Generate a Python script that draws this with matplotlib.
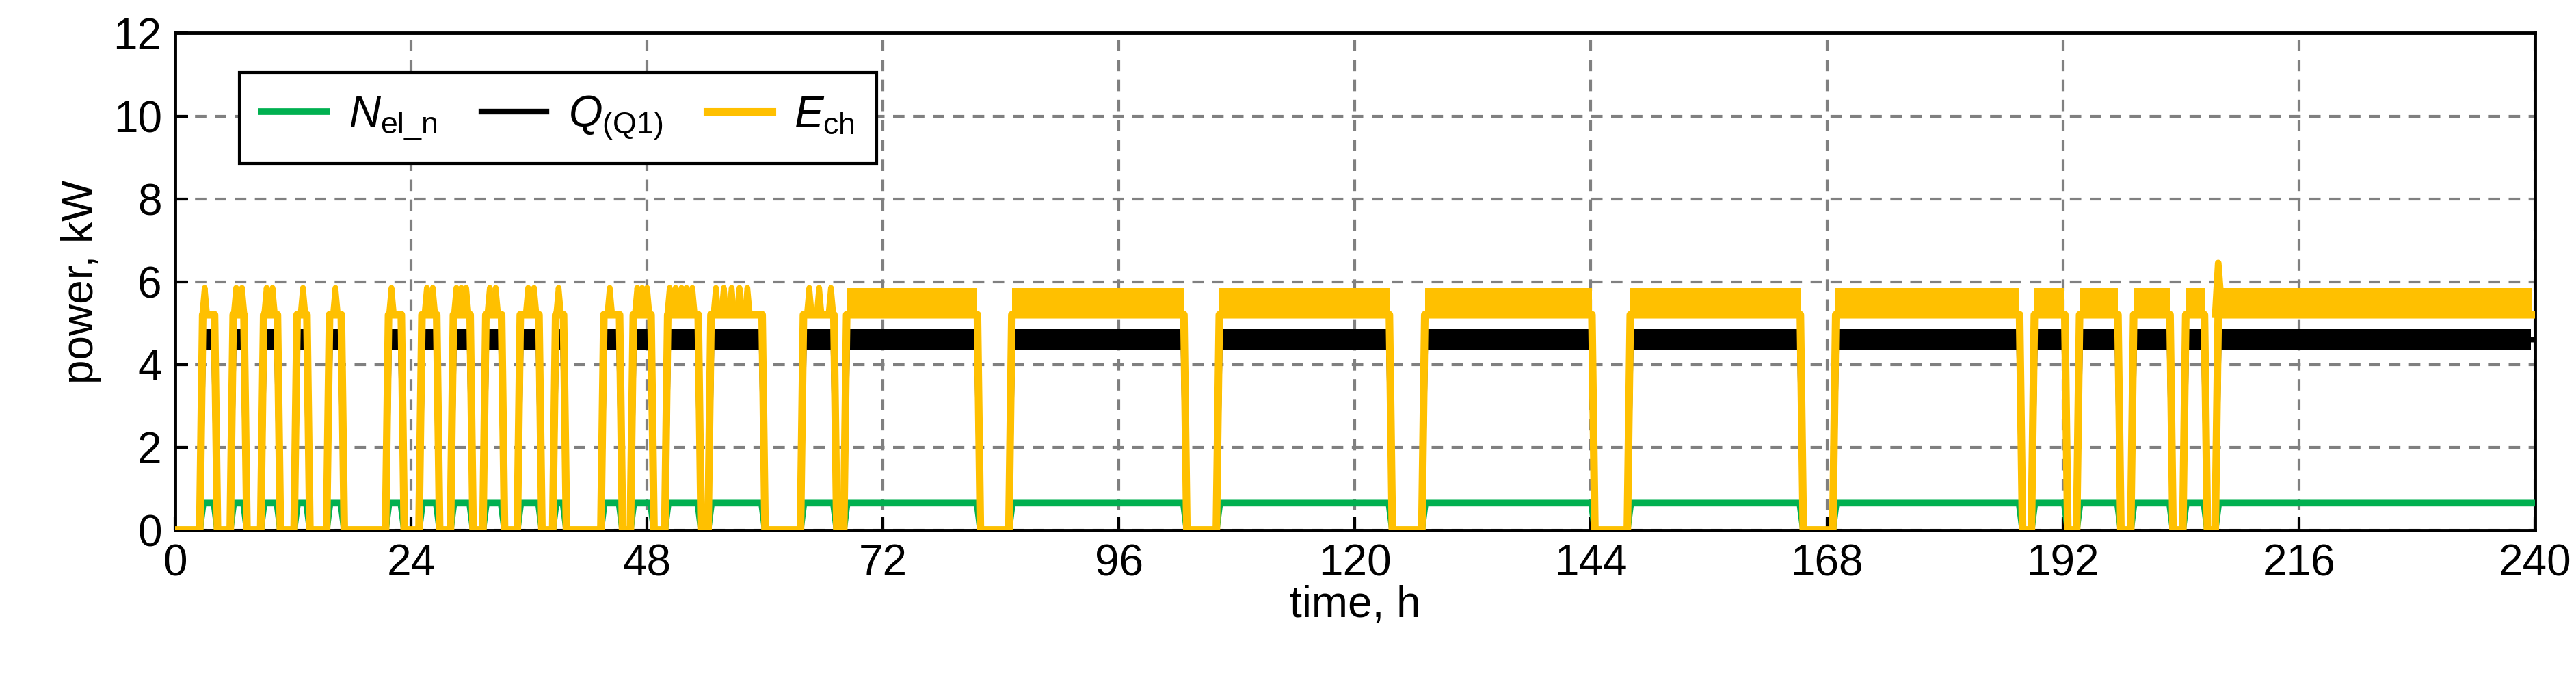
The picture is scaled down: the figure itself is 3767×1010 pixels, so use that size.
import numpy as np
import matplotlib
matplotlib.use("Agg")
import matplotlib.pyplot as plt

plt.rcParams["font.family"] = ["Liberation Sans", "DejaVu Sans"]
plt.rcParams["mathtext.fontset"] = "custom"
plt.rcParams["mathtext.rm"] = "Liberation Sans"
plt.rcParams["mathtext.it"] = "Liberation Sans:italic"

# compressor on/off periods (h)
on_start = [2.5, 5.6, 8.7, 12.1, 15.4, 21.4, 24.8, 28.0, 31.3, 34.8, 38.4, 43.3, 46.3,
            49.8, 54.2, 63.6, 68.0, 84.8, 105.9, 126.8, 147.7, 168.6, 188.8, 193.4,
            198.9, 204.2, 207.5]
on_end = [4.3, 7.3, 10.7, 13.7, 17.2, 23.3, 26.9, 30.3, 33.5, 37.3, 39.8, 45.5, 48.7,
          53.5, 60.0, 67.3, 81.9, 102.9, 123.8, 144.4, 165.6, 187.9, 192.5, 197.9,
          203.2, 206.7, 240.0]
# levels (kW)
ech_base, ech_peak = 5.2, 5.85
q_level, q_low, q_high = 4.6, 4.35, 4.85
n_level = 0.65
# periods where E_ch oscillates densely between base and peak
dense_start = [68.0, 84.8, 105.9, 126.8, 147.7, 168.6, 188.8, 193.4, 198.9, 204.2, 207.5]
dense_end = [81.9, 102.9, 123.8, 144.4, 165.6, 187.9, 192.5, 197.9, 203.2, 206.7, 240.0]
# single E_ch spikes in the sparse periods
ech_spikes = [3.0, 6.2, 6.8, 9.3, 9.9, 13.0, 16.3, 22.0, 25.6, 26.2, 28.6, 29.1, 29.6,
              32.0, 32.6, 35.9, 36.5, 39.0, 44.2, 47.0, 47.5, 48.0, 50.3, 50.9, 51.5,
              52.0, 52.6, 55.0, 55.8, 56.6, 57.4, 58.2, 64.5, 65.5, 66.7]
ech_startup_peak = (207.8, 6.45)


def square(level, ramp):
    t, y = [0.0], [0.0]
    for a, b in zip(on_start, on_end):
        t += [a, a + ramp, min(b - ramp, 240), min(b, 240)]
        y += [0, level, level, 0 if b < 240 else level]
    if on_end[-1] < 240:
        t.append(240); y.append(0)
    return np.array(t), np.array(y)


fig, ax = plt.subplots(figsize=(37.67, 10.10), dpi=100)
fig.subplots_adjust(left=0.068, right=0.984, top=0.952, bottom=0.233)

t, y = square(n_level, 0.35)
ax.plot(t, y, color="#00B050", lw=7, label=r"$N_{\mathrm{el\_n}}$", zorder=3)
t, y = square(q_level, 0.35)
ax.plot(t, y, color="black", lw=6, label=r"$Q_{\mathrm{(Q1)}}$", zorder=4)
for a, b in zip(on_start, on_end):
    ax.fill_between([a + 0.45, b - 0.4], q_low, q_high, color="black", lw=0, zorder=4)
t, y = square(ech_base, 0.3)
ax.plot(t, y, color="#FFC000", lw=8, label=r"$E_{\mathrm{ch}}$", zorder=5)
for a, b in zip(dense_start, dense_end):
    ax.fill_between([a + 0.3, b - 0.3], ech_base, ech_peak, color="#FFC000", lw=0, zorder=5)
for s in ech_spikes:
    ax.plot([s - 0.25, s, s + 0.25], [ech_base, ech_peak, ech_base], color="#FFC000", lw=6, zorder=5)
ax.plot([207.5, ech_startup_peak[0], 208.2], [ech_base, ech_startup_peak[1], ech_base],
        color="#FFC000", lw=7, zorder=5)

ax.set_xlim(0, 240)
ax.set_ylim(0, 12)
ax.set_xticks(np.arange(0, 241, 24))
ax.set_yticks(np.arange(0, 13, 2))
ax.tick_params(labelsize=46, direction="in", length=14, width=3, pad=14)
ax.grid(True, color="#808080", linestyle=(0, (4, 3)), lw=3)
for sp in ax.spines.values():
    sp.set_linewidth(3.5)
ax.set_xlabel("time, h", fontsize=46, labelpad=0)
ax.set_ylabel("power, kW", fontsize=46, labelpad=12)

leg = ax.legend(loc="upper left", bbox_to_anchor=(0.018, 0.965), ncol=3, fontsize=46,
                frameon=True, fancybox=False, edgecolor="black", handlelength=1.5,
                columnspacing=1.0, handletextpad=0.5, borderpad=0.5)
leg.get_frame().set_linewidth(3)
leg.get_frame().set_alpha(1)

fig.savefig("out.png", dpi=100)
